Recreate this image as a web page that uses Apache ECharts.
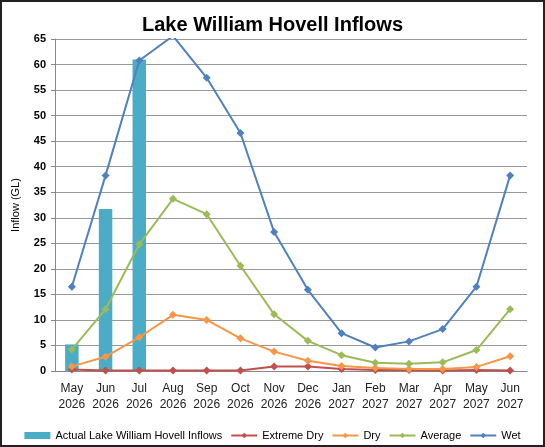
<!DOCTYPE html>
<html><head><meta charset="utf-8">
<script src="https://cdn.jsdelivr.net/npm/echarts@6/dist/echarts.min.js"></script>
<style>
html,body{margin:0;padding:0;background:#fff;}
#c{width:545px;height:447px;box-sizing:border-box;border:2px solid #222;}
</style></head>
<body><div id="c"></div>
<script>
const categories = ['May\n2026','Jun\n2026','Jul\n2026','Aug\n2026','Sep\n2026','Oct\n2026','Nov\n2026','Dec\n2026','Jan\n2027','Feb\n2027','Mar\n2027','Apr\n2027','May\n2027','Jun\n2027'];
const actual = [5.2, 31.7, 61.0, null, null, null, null, null, null, null, null, null, null, null];
const extremeDry = [0.3, 0.1, 0.1, 0.1, 0.1, 0.1, 0.9, 0.9, 0.4, 0.2, 0.2, 0.1, 0.2, 0.1];
const dry = [0.9, 2.8, 6.6, 11.0, 10.0, 6.4, 3.8, 2.0, 1.0, 0.6, 0.4, 0.4, 0.8, 2.9];
const average = [4.2, 12.1, 24.8, 33.7, 30.7, 20.6, 11.1, 5.9, 3.1, 1.6, 1.4, 1.7, 4.1, 12.1];
const wet = [16.5, 38.3, 60.8, 65.6, 57.4, 46.6, 27.2, 15.9, 7.4, 4.6, 5.8, 8.2, 16.5, 38.3];

const chart = echarts.init(document.getElementById('c'), null, {renderer:'canvas'});
const FONT = '"Liberation Sans", "Noto Sans", sans-serif';
function lineSeries(name, data, color){
  return {name, type:'line', data, symbol:'diamond', symbolSize:8, clip:true,
    lineStyle:{color, width:2}, itemStyle:{color}, emphasis:{disabled:true}, z:3};
}
chart.setOption({
  animation:false,
  textStyle:{fontFamily:FONT},
  title:{text:'Lake William Hovell Inflows', left:'center', top:8,
    textStyle:{fontFamily:FONT, fontSize:20, fontWeight:'bold', color:'#000'}},
  grid:{left:53, right:16, top:37, bottom:74},
  legend:{top:423, left:'center', itemWidth:26, itemHeight:7, itemGap:8,
    textStyle:{fontFamily:FONT, fontSize:11, color:'#000'},
    data:[
      {name:'Actual Lake William Hovell Inflows', icon:'rect', itemStyle:{color:'#4BACC6'}},
      'Extreme Dry','Dry','Average','Wet']},
  xAxis:{type:'category', data:categories, boundaryGap:true,
    axisLine:{lineStyle:{color:'#888'}}, axisTick:{show:false},
    axisLabel:{fontFamily:FONT, fontSize:12, color:'#222', lineHeight:16, margin:10, interval:0}},
  yAxis:{type:'value', min:0, max:65, interval:5, name:'Inflow (GL)', nameLocation:'middle', nameGap:34, nameRotate:90,
    nameTextStyle:{fontFamily:FONT, fontSize:11, color:'#000'},
    axisLine:{show:true, lineStyle:{color:'#888'}},
    axisTick:{show:true, length:4, lineStyle:{color:'#888'}},
    splitLine:{lineStyle:{color:'#999', width:1}},
    axisLabel:{fontFamily:FONT, fontSize:11, fontWeight:'bold', color:'#000', margin:9}},
  series:[
    {name:'Actual Lake William Hovell Inflows', type:'bar', data:actual, barWidth:'40%',
      itemStyle:{color:'#4BACC6'}, z:2},
    lineSeries('Extreme Dry', extremeDry, '#C0504D'),
    lineSeries('Dry', dry, '#F79646'),
    lineSeries('Average', average, '#9BBB59'),
    lineSeries('Wet', wet, '#4F81BD')
  ]
});
</script></body></html>
